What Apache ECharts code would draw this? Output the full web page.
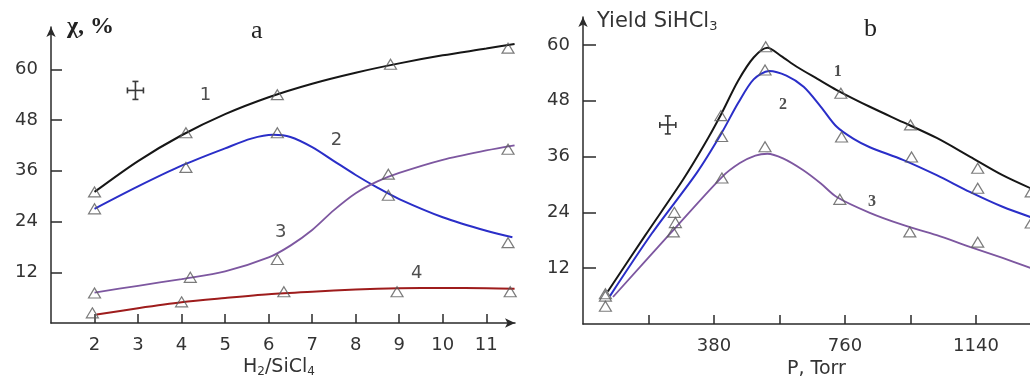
<!DOCTYPE html>
<html>
<head>
<meta charset="utf-8">
<script src="https://cdn.jsdelivr.net/npm/echarts@6/dist/echarts.min.js"></script>
<style>
  html, body { margin: 0; padding: 0; background: #fff; }
  #chart { width: 1030px; height: 385px; }
</style>
</head>
<body>
<div id="chart"></div>
<script>
// ---- Panel a: conversion vs H2/SiCl4 ratio ----
const ratioTicks = [2, 3, 4, 5, 6, 7, 8, 9, 10, 11];
const convTicks = [12, 24, 36, 48, 60];

// measured points (triangles)
const a1Points = [[2, 31], [4.1, 45], [6.2, 54], [8.8, 61.2], [11.5, 65]];
const a2Points = [[2, 27], [4.1, 36.8], [6.2, 45], [8.75, 30.2], [11.5, 19]];
const a3Points = [[2, 7.1], [4.2, 10.8], [6.2, 15], [8.75, 35.2], [11.5, 41.1]];
const a4Points = [[1.95, 2.4], [4, 5], [6.35, 7.4], [8.95, 7.4], [11.55, 7.4]];

// fitted curves
const a1Curve = [[2, 31], [3, 38.3], [4, 44.4], [5, 49.4], [6, 53.4], [7, 56.6], [8, 59.2], [9, 61.4], [10, 63.3], [11, 64.9], [11.65, 66]];
const a2Curve = [[2, 27], [3, 32.3], [4, 37.2], [5, 41.3], [5.6, 43.6], [6.1, 44.5], [6.5, 44], [7, 41.6], [7.5, 38.3], [8, 35], [8.5, 32], [9, 29.3], [10, 25], [11, 21.8], [11.6, 20.3]];
const a3Curve = [[2, 7.2], [3, 8.8], [4, 10.4], [5, 12.2], [6, 15.5], [6.5, 18.3], [7, 22], [7.5, 26.7], [8, 30.7], [8.5, 33.5], [9, 35.5], [10, 38.6], [11, 40.8], [11.65, 42]];
const a4Curve = [[2.05, 2], [3, 3.5], [4, 4.9], [5, 5.9], [6, 6.8], [7, 7.4], [8, 7.9], [9, 8.2], [10, 8.3], [11, 8.2], [11.65, 8.1]];

const aCurveLabels = [{ name: '1', value: [4.55, 53.9] }, { name: '2', value: [7.56, 43.2] }, { name: '3', value: [6.28, 21.5] }, { name: '4', value: [9.4, 11.8] }];
const aErrorMark = [[2.94, 55]];

// ---- Panel b: SiHCl3 yield vs pressure ----
const pressureTicks = [190, 380, 570, 760, 950, 1140, 1330];
const pressureLabels = [380, 760, 1140];
const yieldTicks = [12, 24, 36, 48, 60];

const b1Points = [[65, 6.5], [265, 24], [400, 44.8], [530, 59.6], [748, 49.6], [950, 42.8], [1145, 33.5], [1300, 28.4]];
const b2Points = [[65, 6], [268, 21.8], [402, 40.3], [528, 54.6], [750, 40.2], [953, 35.9], [1145, 29.2], [1300, 21.7]];
const b3Points = [[65, 3.8], [262, 19.8], [403, 31.4], [528, 38.1], [745, 26.8], [948, 19.8], [1145, 17.6]];

const b1Curve = [[72, 7], [180, 19], [290, 31], [350, 38.3], [400, 45], [450, 52.3], [495, 57.3], [535, 59.4], [575, 57.6], [620, 55.3], [680, 52.7], [736, 50.3], [832, 46.7], [928, 43.4], [1026, 40], [1122, 36], [1217, 32], [1310, 28.8]];
const b2Curve = [[78, 6], [200, 19.5], [330, 32.5], [400, 40.8], [450, 47.5], [495, 52.6], [540, 54.4], [590, 53.4], [640, 51], [690, 46.7], [736, 42.4], [785, 39.8], [832, 38], [928, 35.3], [1026, 32], [1122, 28.4], [1217, 25.2], [1310, 22.7]];
const b3Curve = [[87, 5.8], [250, 19.2], [403, 31.6], [455, 34.6], [500, 36.2], [535, 36.6], [580, 35.6], [638, 33.1], [690, 30.2], [736, 27.3], [832, 23.9], [928, 21.3], [1026, 19.1], [1122, 16.6], [1217, 14.2], [1300, 12]];

const bCurveLabels = [{ name: '1', value: [739, 54.2] }, { name: '2', value: [580, 47.1] }, { name: '3', value: [838, 26.2] }];
const bErrorMark = [[246, 42.8]];

const BLACK = '#161616';
const BLUE = '#2a2ec8';
const PURPLE = '#7d57a0';
const RED = '#9e1c1c';
const MARK = '#5a5a5a';
const AXIS = '#2a2a2a';
const SANS = 'DejaVu Sans, Verdana, sans-serif';
const SERIF = 'Liberation Serif, Times New Roman, serif';

function curve(data, color, xi, width) {
  return {
    type: 'line', data: data, xAxisIndex: xi, yAxisIndex: xi,
    smooth: 0.3, showSymbol: false, symbol: 'none', silent: true,
    lineStyle: { color: color, width: width || 2 }, z: 2
  };
}
function points(data, xi) {
  return {
    type: 'scatter', data: data, xAxisIndex: xi, yAxisIndex: xi,
    symbol: 'triangle', symbolSize: [12, 10], silent: true,
    itemStyle: { color: 'rgba(255,255,255,0)', borderColor: MARK, borderWidth: 1.2 }, z: 3
  };
}
function curveLabels(data, xi, font, size, weight) {
  return {
    type: 'scatter', data: data, xAxisIndex: xi, yAxisIndex: xi,
    symbolSize: 0, silent: true,
    label: { show: true, position: 'inside', formatter: '{b}', color: '#222', fontFamily: font, fontSize: size, fontWeight: weight || 'normal' }
  };
}
function errorMark(data, xi) {
  return {
    type: 'custom', xAxisIndex: xi, yAxisIndex: xi, data: data, silent: true,
    renderItem: function (params, api) {
      const p = api.coord([api.value(0), api.value(1)]);
      const x = p[0], y = p[1], hw = 8, hh = 9, c = 3;
      const st = { stroke: '#3a3a3a', lineWidth: 1.6 };
      const seg = (x1, y1, x2, y2) => ({ type: 'line', shape: { x1, y1, x2, y2 }, style: st });
      return {
        type: 'group', children: [
          seg(x, y - hh, x, y + hh), seg(x - c, y - hh, x + c, y - hh), seg(x - c, y + hh, x + c, y + hh),
          seg(x - hw, y, x + hw, y), seg(x - hw, y - c, x - hw, y + c), seg(x + hw, y - c, x + hw, y + c)
        ]
      };
    }
  };
}
function valueAxis(gi, min, max, tickVals, labelVals, tickLen, arrow) {
  return {
    type: 'value', gridIndex: gi, min: min, max: max,
    splitLine: { show: false },
    axisLine: { show: true, lineStyle: { color: AXIS, width: 1.5 }, symbol: arrow ? ['none', 'arrow'] : ['none', 'none'], symbolSize: [7, 10] },
    axisTick: { show: true, inside: true, length: tickLen, customValues: tickVals, lineStyle: { color: AXIS, width: 1.5 } },
    axisLabel: { show: true, customValues: labelVals, formatter: v => String(v), color: '#333', fontFamily: SANS, fontSize: 18, margin: 13 }
  };
}

const chart = echarts.init(document.getElementById('chart'), null, { renderer: 'canvas' });
chart.setOption({
  animation: false,
  backgroundColor: '#fff',
  grid: [
    { left: 51, top: 27, width: 464, height: 296, outerBoundsMode: 'none' },
    { left: 583, top: 17, width: 524, height: 307, outerBoundsMode: 'none' }
  ],
  xAxis: [
    valueAxis(0, 1, 11.66, ratioTicks, ratioTicks, 9, true),
    valueAxis(1, 0, 1520, pressureTicks, pressureLabels, 9, false)
  ],
  yAxis: [
    valueAxis(0, 0, 70, convTicks, convTicks, 11, true),
    valueAxis(1, 0, 66, yieldTicks, yieldTicks, 13, true)
  ],
  series: [
    curve(a1Curve, BLACK, 0), curve(a2Curve, BLUE, 0), curve(a3Curve, PURPLE, 0, 1.8), curve(a4Curve, RED, 0),
    points(a1Points, 0), points(a2Points, 0), points(a3Points, 0), points(a4Points, 0),
    curveLabels(aCurveLabels, 0, SANS, 18), errorMark(aErrorMark, 0),
    curve(b1Curve, BLACK, 1), curve(b2Curve, BLUE, 1), curve(b3Curve, PURPLE, 1, 1.8),
    points(b1Points, 1), points(b2Points, 1), points(b3Points, 1),
    curveLabels(bCurveLabels, 1, SERIF, 16, 'bold'), errorMark(bErrorMark, 1)
  ],
  graphic: [
    { type: 'text', left: 67, top: 15, style: { text: 'χ, %', fontFamily: SERIF, fontSize: 24, fontWeight: 'bold', fill: '#222' } },
    { type: 'text', left: 251, top: 18, style: { text: 'a', fontFamily: SERIF, fontSize: 26, fill: '#222' } },
    { type: 'text', left: 243, top: 357, style: {
      text: '{n|H}{s|2}{n|/SiCl}{s|4}', fill: '#333',
      rich: { n: { fontFamily: SANS, fontSize: 19, lineHeight: 23 }, s: { fontFamily: SANS, fontSize: 12, lineHeight: 23, padding: [9, 0, 0, 0] } }
    } },
    { type: 'text', left: 597, top: 11, style: {
      text: '{n|Yield SiHCl}{s|3}', fill: '#333',
      rich: { n: { fontFamily: SANS, fontSize: 21, lineHeight: 25 }, s: { fontFamily: SANS, fontSize: 13, lineHeight: 25, padding: [9, 0, 0, 0] } }
    } },
    { type: 'text', left: 864, top: 16, style: { text: 'b', fontFamily: SERIF, fontSize: 26, fill: '#222' } },
    { type: 'text', left: 787, top: 360, style: { text: 'P, Torr', fontFamily: SANS, fontSize: 19, fill: '#333' } }
  ]
});
</script>
</body>
</html>
